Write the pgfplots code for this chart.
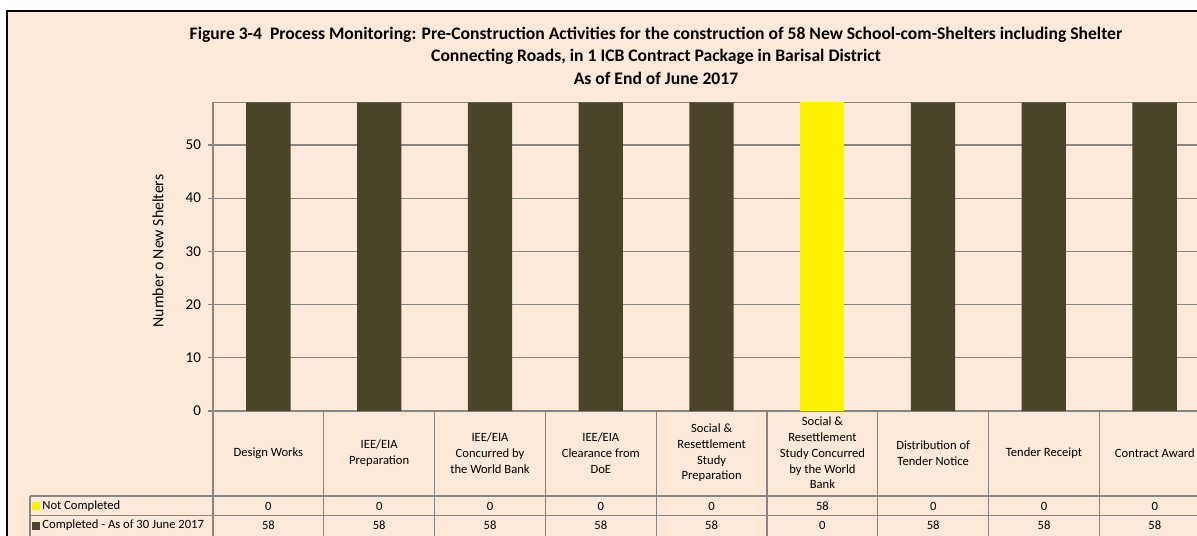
\documentclass[border=0pt]{standalone}
\usepackage{pgfplots}
\pgfplotsset{compat=1.18}
\usepackage{fontspec}
\setmainfont{Carlito}
\definecolor{bg}{HTML}{FDE9D9}
\definecolor{dark}{HTML}{4A452A}
\definecolor{gridc}{HTML}{868686}
\begin{document}
\begin{tikzpicture}
\path[use as bounding box] (0pt,0pt) rectangle (598.5pt,-267.5pt);
\clip (0pt,0pt) rectangle (598.5pt,-267.5pt);
\begin{scope}[x=0.5pt,y=-0.5pt]
\fill[white] (0,0) rectangle (1197,535);
\fill[bg] (7,11) rectangle (1230,560);
\draw[black, line width=0.7pt] (7,560) -- (7,11) -- (1230,11);
\begin{scope}[font=\bfseries\fontsize{8.8}{10.5}\selectfont]
\node at (656,35) {Figure 3-4\ \ Process Monitoring: Pre-Construction Activities for the construction of 58 New School-com-Shelters including Shelter};
\node at (656,56.5) {Connecting Roads, in 1 ICB Contract Package in Barisal District};
\node at (656,78) {As of End of June 2017};
\end{scope}
\node[rotate=90, font=\fontsize{7.9}{9}\selectfont] at (158,251) {Number o New Shelters};
\end{scope}

\begin{axis}[
  at={(106.5pt,-205.5pt)}, anchor=south west,
  scale only axis, width=498.5pt, height=154.3pt,
  xmin=-0.5, xmax=8.5, ymin=0, ymax=58,
  ybar stacked, bar width=0.4,
  xtick=\empty,
  ytick={0,10,20,30,40,50},
  ymajorgrids,
  grid style={gridc, line width=0.6pt},
  axis line style={gridc, line width=0.6pt},
  tick style={gridc, line width=0.6pt},
  tick align=outside, major tick length=2.5pt,
  ytick pos=left,
  yticklabel style={font=\fontsize{7.5}{9}\selectfont, text=black},
  /pgf/number format/assume math mode=true,
]
% Completed - As of 30 June 2017
\addplot[fill=dark, draw=none] coordinates {(0,58) (1,58) (2,58) (3,58) (4,58) (5,0) (6,58) (7,58) (8,58)};
% Not Completed
\addplot[fill=yellow, draw=none] coordinates {(0,0) (1,0) (2,0) (3,0) (4,0) (5,58) (6,0) (7,0) (8,0)};
\end{axis}

\begin{scope}[x=0.5pt,y=-0.5pt, font=\fontsize{6.3}{7.85}\selectfont]
\foreach \k in {0,...,9} \draw[gridc, line width=0.6pt] ({213+110.8*\k},411) -- ({213+110.8*\k},545);
\draw[gridc, line width=0.6pt] (30,496) -- (1230,496);
\draw[gridc, line width=0.6pt] (30,515.5) -- (1230,515.5);
\draw[gridc, line width=0.6pt] (30,496) -- (30,545);
\node[align=center] at ({213+110.8*0.5},453) {Design Works};
\node[align=center] at ({213+110.8*1.5},453) {IEE/EIA\\Preparation};
\node[align=center] at ({213+110.8*2.5},453) {IEE/EIA\\Concurred by\\the World Bank};
\node[align=center] at ({213+110.8*3.5},453) {IEE/EIA\\Clearance from\\DoE};
\node[align=center] at ({213+110.8*4.5},453) {Social \&\\Resettlement\\Study\\Preparation};
\node[align=center] at ({213+110.8*5.5},453) {Social \&\\Resettlement\\Study Concurred\\by the World\\Bank};
\node[align=center] at ({213+110.8*6.5},453) {Distribution of\\Tender Notice};
\node[align=center] at ({213+110.8*7.5},453) {Tender Receipt};
\node[align=center] at ({213+110.8*8.5},453) {Contract Award};
\foreach \v [count=\i from 0] in {0,0,0,0,0,58,0,0,0}
  \node at ({213+110.8*(\i+0.5)},506) {\v};
\foreach \v [count=\i from 0] in {58,58,58,58,58,0,58,58,58}
  \node at ({213+110.8*(\i+0.5)},525.5) {\v};
\fill[yellow] (32,502) rectangle (40,510);
\node[anchor=west, inner sep=1pt] at (40,506) {Not Completed};
\fill[dark] (32,521.5) rectangle (40,529.5);
\node[anchor=west, inner sep=1pt] at (40,525.5) {Completed - As of 30 June 2017};
\end{scope}
\end{tikzpicture}
\end{document}
